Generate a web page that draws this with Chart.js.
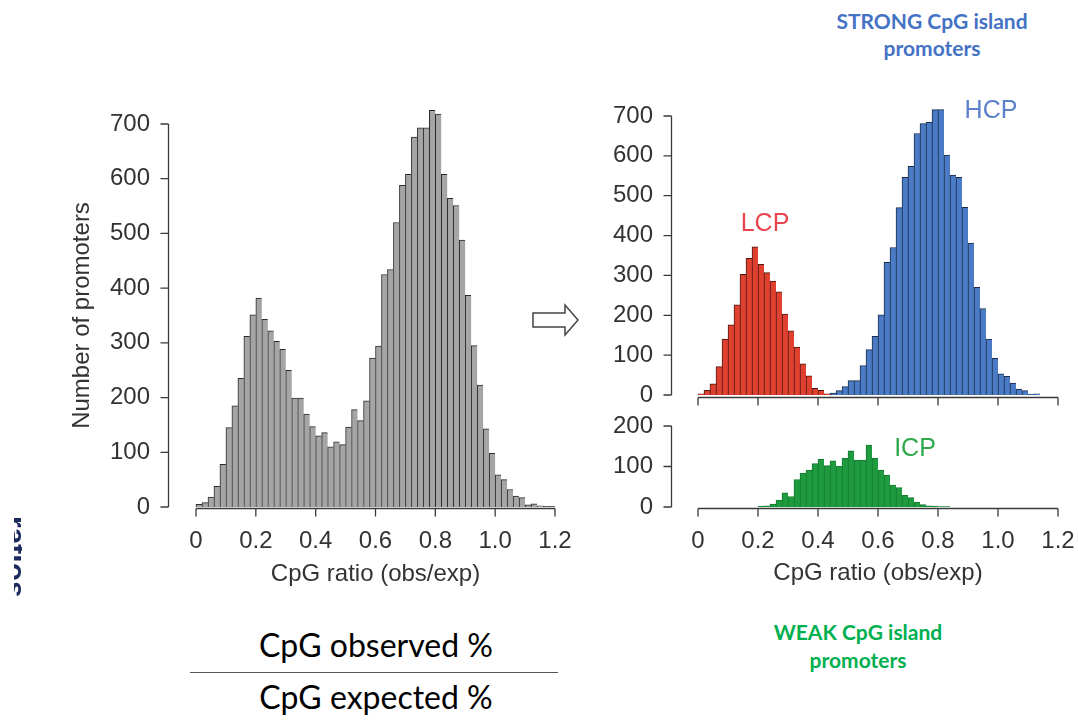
<!DOCTYPE html>
<html lang="en">
<head>
  <meta charset="UTF-8">
  <title>CpG ratio of promoters</title>
  <script src="https://cdn.jsdelivr.net/npm/chart.js"></script>
  <style>
    body { margin: 0; background: #fff; width: 1078px; height: 721px; position: relative; overflow: hidden; }
    canvas { position: absolute; }
    .txt { position: absolute; text-align: center; white-space: nowrap; }
    .lbl { font-family: "Liberation Sans", Arial, sans-serif; font-size: 25px; line-height: 30px; width: 100px; }
    .note { font-family: Lato, sans-serif; font-weight: bold; font-size: 21px; width: 300px; }
    .frac { font-family: Lato, sans-serif; font-size: 32px; line-height: 40px; width: 300px; color: #000; }
  </style>
</head>
<body>

<canvas id="allChart" width="580" height="610" style="left:0;top:0"></canvas>
<canvas id="splitChart" width="498" height="330" style="left:580px;top:80px"></canvas>
<canvas id="icpChart" width="498" height="200" style="left:580px;top:410px"></canvas>

<div class="txt note" style="left:782px;top:7px;line-height:27px;color:#4472c4">STRONG CpG island<br>promoters</div>
<div class="txt note" style="left:708px;top:618px;line-height:28px;color:#00b050">WEAK CpG island<br>promoters</div>

<div class="txt lbl" style="left:715px;top:207px;color:#e8454e">LCP</div>
<div class="txt lbl" style="left:941px;top:94px;color:#5b80cc">HCP</div>
<div class="txt lbl" style="left:865px;top:432px;color:#2ea84a">ICP</div>

<div class="txt frac" style="left:226px;top:625px">CpG observed %</div>
<div style="position:absolute;left:190px;top:672px;width:368px;height:1px;background:#555"></div>
<div class="txt frac" style="left:226px;top:677px">CpG expected %</div>

<svg style="position:absolute;left:530px;top:300px" width="52" height="40">
  <polygon points="3,13 35,13 35,5 48,20 35,35 35,27 3,27" fill="#fff" stroke="#444" stroke-width="1.5"/>
</svg>

<div style="position:absolute;left:14px;top:512px;width:8px;height:100px;overflow:hidden">
  <div style="position:absolute;left:16px;top:4px;transform-origin:left top;transform:rotate(90deg);font:bold 30px 'Liberation Sans',sans-serif;line-height:30px;color:#1c2a5e;white-space:nowrap">ratios</div>
</div>

<script>
// histogram bins are 0.02 wide
const binWidth = 0.02;
const xTicks = [0, 0.2, 0.4, 0.6, 0.8, 1.0, 1.2];

// all promoters, bins from 0.00
const allFrom = 0.00;
const allCounts = [5, 8, 18, 38, 78, 145, 185, 235, 312, 351,
  382, 343, 322, 303, 288, 250, 199, 199, 170, 147,
  130, 136, 110, 119, 114, 146, 178, 158, 194, 272,
  294, 425, 434, 520, 588, 608, 676, 693, 693, 725,
  718, 608, 564, 551, 488, 387, 295, 223, 143, 98,
  59, 50, 32, 20, 17, 4, 6, 2, 1, 1];

// low CpG promoters
const lcpFrom = 0.00;
const lcpCounts = [3, 12, 28, 71, 140, 176, 226, 303, 343, 372, 328,
  307, 286, 259, 203, 161, 120, 78, 48, 17, 12, 3];

// high CpG promoters
const hcpFrom = 0.44;
const hcpCounts = [5, 11, 21, 36, 36, 74, 114, 147, 201, 333, 370, 470,
  546, 574, 656, 681, 684, 716, 716, 602, 552, 546, 471, 381,
  270, 217, 140, 92, 53, 47, 30, 15, 11, 2, 3, 0];

// intermediate CpG promoters
const icpFrom = 0.20;
const icpCounts = [2, 3, 7, 17, 35, 26, 68, 84, 91, 107, 118, 102, 114, 101, 120, 139,
  116, 116, 153, 120, 91, 79, 54, 48, 29, 23, 12, 6, 3, 2, 1, 1];

const textColor = '#333';
const tickFont = { family: "'Liberation Sans', Arial, sans-serif", size: 24 };

function toBins(from, counts) {
  return counts.map((c, i) => ({ x: from + (i + 0.5) * binWidth, y: c }));
}

function histSet(from, counts, fill, edge) {
  return {
    data: toBins(from, counts),
    backgroundColor: fill,
    borderColor: edge,
    borderWidth: { left: 1, top: 1, right: 0, bottom: 0 },
    borderSkipped: false,
    barPercentage: 1,
    categoryPercentage: 1,
    grouped: false,
    clip: false
  };
}

// R style detached axes, drawn from the chart's own scales
const rAxes = {
  id: 'rAxes',
  afterDraw(chart, args, opts) {
    const ctx = chart.ctx;
    const xs = chart.scales.x, ys = chart.scales.y;
    const area = chart.chartArea;
    ctx.save();
    ctx.strokeStyle = '#3a3a3a';
    ctx.lineWidth = 1.3;
    ctx.beginPath();
    const ax = Math.round(area.left - opts.yGap) + 0.5;
    ctx.moveTo(ax, ys.getPixelForValue(ys.min));
    ctx.lineTo(ax, ys.getPixelForValue(ys.max));
    ys.ticks.forEach(t => {
      const p = ys.getPixelForValue(t.value);
      ctx.moveTo(ax, p);
      ctx.lineTo(ax - 8, p);
    });
    const ay = Math.round(area.bottom + opts.xGap) + 0.5;
    ctx.moveTo(xs.getPixelForValue(xs.min), ay);
    ctx.lineTo(xs.getPixelForValue(xs.max), ay);
    xTicks.forEach(v => {
      const p = xs.getPixelForValue(v);
      ctx.moveTo(p, ay);
      ctx.lineTo(p, ay + 8);
    });
    ctx.stroke();
    ctx.restore();
  }
};

function makeOptions(cfg) {
  return {
    responsive: false,
    animation: false,
    layout: { padding: { left: 0, right: cfg.right, top: cfg.top, bottom: 0 } },
    plugins: {
      legend: { display: false },
      tooltip: { enabled: false },
      rAxes: { yGap: cfg.yGap, xGap: cfg.xGap }
    },
    scales: {
      x: {
        type: 'linear', min: 0, max: 1.2, offset: false,
        grid: { display: false, drawTicks: false },
        border: { display: false },
        ticks: {
          display: cfg.xLabels, stepSize: 0.2, padding: 20, color: textColor, font: tickFont,
          callback: v => v === 0 ? '0' : v.toFixed(1)
        },
        title: {
          display: cfg.xLabels, text: 'CpG ratio (obs/exp)', color: textColor, font: tickFont,
          padding: { top: 0, bottom: cfg.titleBottom }
        },
        afterFit: s => { s.height = cfg.xHeight; s.paddingLeft = 0; s.paddingRight = 0; }
      },
      y: {
        min: 0, max: cfg.yMax,
        grid: { display: false, drawTicks: false },
        border: { display: false },
        ticks: { stepSize: 100, padding: cfg.yPad, color: textColor, font: tickFont },
        title: {
          display: !!cfg.yTitle, text: cfg.yTitle || '', color: textColor, font: tickFont,
          padding: { top: 68, bottom: 0 }
        },
        afterFit: s => { s.width = cfg.yWidth; s.paddingTop = 0; s.paddingBottom = 0; }
      }
    }
  };
}

new Chart(document.getElementById('allChart'), {
  type: 'bar',
  data: { datasets: [histSet(allFrom, allCounts, '#a5a5a5', '#2b2b2b')] },
  options: makeOptions({ right: 25, top: 124, yGap: 28, xGap: 1, xLabels: true, titleBottom: 21,
    xHeight: 103, yMax: 700, yPad: 46, yWidth: 196, yTitle: 'Number of promoters' }),
  plugins: [rAxes]
});

new Chart(document.getElementById('splitChart'), {
  type: 'bar',
  data: { datasets: [
    histSet(lcpFrom, lcpCounts, '#e0402f', '#4a1a14'),
    histSet(hcpFrom, hcpCounts, '#4a7bc4', '#1c2c4c')
  ] },
  options: makeOptions({ right: 20, top: 36, yGap: 27, xGap: 2, xLabels: false, titleBottom: 0,
    xHeight: 15, yMax: 700, yPad: 45, yWidth: 118 }),
  plugins: [rAxes]
});

new Chart(document.getElementById('icpChart'), {
  type: 'bar',
  data: { datasets: [histSet(icpFrom, icpCounts, '#1e9b3f', '#137a2e')] },
  options: makeOptions({ right: 20, top: 16, yGap: 27, xGap: 1, xLabels: true, titleBottom: 22,
    xHeight: 103, yMax: 200, yPad: 45, yWidth: 118 }),
  plugins: [rAxes]
});
</script>

</body>
</html>
